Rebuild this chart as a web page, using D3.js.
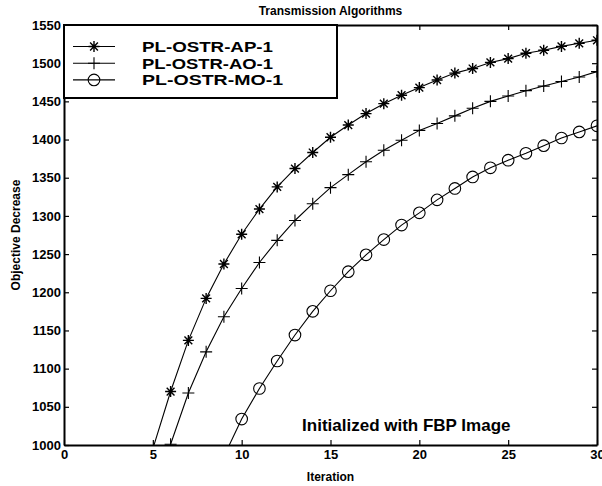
<!DOCTYPE html>
<html>
<head>
<meta charset="utf-8">
<script src="https://cdn.jsdelivr.net/npm/d3@7"></script>
<style>
body { margin: 0; background: #fff; }
text { font-family: "Liberation Sans", Arial, Helvetica, sans-serif; font-weight: bold; fill: #000; }
</style>
</head>
<body>
<div id="chart"></div>
<script>
// values
var apIter = [5, 6, 7, 8, 9, 10, 11, 12, 13, 14, 15, 16, 17, 18, 19, 20, 21, 22, 23, 24, 25, 26, 27, 28, 29, 30];
var apVals = [995, 1070, 1137, 1192, 1237, 1276, 1309, 1338, 1362, 1383, 1403, 1419, 1434, 1447, 1458, 1468, 1478, 1487, 1493, 1501, 1506, 1513, 1517, 1522, 1526, 1530];

var aoIter = [6, 7, 8, 9, 10, 11, 12, 13, 14, 15, 16, 17, 18, 19, 20, 21, 22, 23, 24, 25, 26, 27, 28, 29, 30];
var aoVals = [1001, 1068, 1122, 1168, 1205, 1239, 1268, 1294, 1316, 1337, 1354, 1371, 1386, 1399, 1412, 1421, 1431, 1441, 1450, 1457, 1464, 1470, 1476, 1482, 1489];

var moIter = [9, 10, 11, 12, 13, 14, 15, 16, 17, 18, 19, 20, 21, 22, 23, 24, 25, 26, 27, 28, 29, 30];
var moVals = [985, 1034, 1074, 1110, 1144, 1175, 1202, 1227, 1249, 1269, 1288, 1304, 1321, 1336, 1351, 1363, 1373, 1382, 1392, 1402, 1410, 1418];

var seriesNames = ["PL-OSTR-AP-1", "PL-OSTR-AO-1", "PL-OSTR-MO-1"];
var markerTypes = ["asterisk", "plus", "circle"];

var xTicks = [0, 5, 10, 15, 20, 25, 30];
var yTicks = [1000, 1050, 1100, 1150, 1200, 1250, 1300, 1350, 1400, 1450, 1500, 1550];

var width = 602;
var height = 486;
var margin = {left: 64, top: 25, right: 5, bottom: 41};
var w = width - margin.left - margin.right;
var h = height - margin.top - margin.bottom;

var svg = d3.select("#chart")
            .append("svg")
            .attr("width", width)
            .attr("height", height);

var group = svg.append("g")
               .attr("transform", "translate(" + margin.left + "," + margin.top + ")");

var x = d3.scaleLinear().domain([0, 30]).range([0, w]);
var y = d3.scaleLinear().domain([1000, 1550]).range([h, 0]);

svg.append("defs").append("clipPath")
   .attr("id", "plotclip")
   .append("rect")
   .attr("width", w)
   .attr("height", h);

var series = [
  {name: seriesNames[0], marker: markerTypes[0], pts: apIter.map(function(d, i) { return {x: d, y: apVals[i]}; })},
  {name: seriesNames[1], marker: markerTypes[1], pts: aoIter.map(function(d, i) { return {x: d, y: aoVals[i]}; })},
  {name: seriesNames[2], marker: markerTypes[2], pts: moIter.map(function(d, i) { return {x: d, y: moVals[i]}; })}
];

// marker shapes, drawn around 0,0
function markerPath(type) {
  var p = d3.path();
  if (type == "plus") {
    p.moveTo(-6, 0); p.lineTo(6, 0);
    p.moveTo(0, -6); p.lineTo(0, 6);
  } else if (type == "asterisk") {
    var r = 5.5, d = 3.9;
    p.moveTo(-r, 0); p.lineTo(r, 0);
    p.moveTo(0, -r); p.lineTo(0, r);
    p.moveTo(-d, -d); p.lineTo(d, d);
    p.moveTo(-d, d); p.lineTo(d, -d);
  } else {
    p.moveTo(5.8, 0);
    p.arc(0, 0, 5.8, 0, 2 * Math.PI);
  }
  return p.toString();
}

var line = d3.line()
             .x(function(d) { return x(d.x); })
             .y(function(d) { return y(d.y); });

var plot = group.append("g").attr("clip-path", "url(#plotclip)");

plot.selectAll("path.series")
    .data(series)
    .enter()
      .append("path")
      .attr("class", "series")
      .attr("d", function(d) { return line(d.pts); })
      .attr("fill", "none")
      .attr("stroke", "#000")
      .attr("stroke-width", 1.1);

series.forEach(function(s) {
  plot.selectAll(null)
      .data(s.pts.filter(function(d) { return d.y >= 1000; }))
      .enter()
        .append("path")
        .attr("transform", function(d) { return "translate(" + x(d.x) + "," + y(d.y) + ")"; })
        .attr("d", markerPath(s.marker))
        .attr("fill", "none")
        .attr("stroke", "#000")
        .attr("stroke-width", s.marker == "asterisk" ? 1.4 : 1.1);
});

// axes, ticks inward on all four sides
var xAxis = d3.axisBottom(x).tickValues(xTicks).tickFormat(d3.format("d")).tickSize(-5).tickSizeOuter(0).tickPadding(5);
var yAxis = d3.axisLeft(y).tickValues(yTicks).tickFormat(d3.format("d")).tickSize(-5).tickSizeOuter(0).tickPadding(3);

var gx = group.append("g")
    .attr("transform", "translate(0," + h + ")")
    .call(xAxis);

var gy = group.append("g")
    .call(yAxis);

group.append("g")
    .call(d3.axisTop(x).tickValues(xTicks).tickSize(-5).tickSizeOuter(0).tickFormat(""));

group.append("g")
    .attr("transform", "translate(" + w + ",0)")
    .call(d3.axisRight(y).tickValues(yTicks).tickSize(-5).tickSizeOuter(0).tickFormat(""));

group.selectAll(".domain").attr("stroke", "#000").attr("stroke-width", 2);
group.selectAll(".tick line").attr("stroke", "#000").attr("stroke-width", 1.2);
gx.selectAll("text").style("font-size", "13px").style("font-family", "'Liberation Sans', Arial, sans-serif").style("font-weight", "bold");
gy.selectAll("text").style("font-size", "13px").style("font-family", "'Liberation Sans', Arial, sans-serif").style("font-weight", "bold");

// legend
var legend = group.append("g");
legend.append("rect")
      .attr("x", 0)
      .attr("y", 0)
      .attr("width", 273)
      .attr("height", 73)
      .attr("fill", "#fff")
      .attr("stroke", "#000")
      .attr("stroke-width", 2);

var rows = legend.selectAll("g.row")
    .data(series)
    .enter()
      .append("g")
      .attr("class", "row")
      .attr("transform", function(d, i) { return "translate(0," + (21.5 + i * 16.7) + ")"; });

rows.append("line")
    .attr("x1", 9).attr("x2", 51)
    .attr("stroke", "#000")
    .attr("stroke-width", 1.1);

rows.append("path")
    .attr("transform", "translate(30,0)")
    .attr("d", function(d) { return markerPath(d.marker); })
    .attr("fill", "none")
    .attr("stroke", "#000")
    .attr("stroke-width", function(d) { return d.marker == "asterisk" ? 1.4 : 1.1; });

rows.append("text")
    .attr("x", 78)
    .attr("y", 5.5)
    .attr("textLength", function(d, i) { return i == 2 ? 141 : 131; })
    .attr("lengthAdjust", "spacingAndGlyphs")
    .style("font-size", "15px")
    .text(function(d) { return d.name; });

// annotation
group.append("text")
     .attr("x", x(13.4))
     .attr("y", y(1000) - 14)
     .style("font-size", "17px")
     .text("Initialized with FBP Image");

// titles
svg.append("text")
   .attr("x", margin.left + w / 2)
   .attr("y", 15)
   .attr("text-anchor", "middle")
   .style("font-size", "12px")
   .text("Transmission Algorithms");

svg.append("text")
   .attr("x", margin.left + w / 2)
   .attr("y", 481)
   .attr("text-anchor", "middle")
   .style("font-size", "12px")
   .text("Iteration");

svg.append("text")
   .attr("transform", "translate(20," + (margin.top + h / 2) + ") rotate(-90)")
   .attr("text-anchor", "middle")
   .style("font-size", "12px")
   .text("Objective Decrease");
</script>
</body>
</html>
